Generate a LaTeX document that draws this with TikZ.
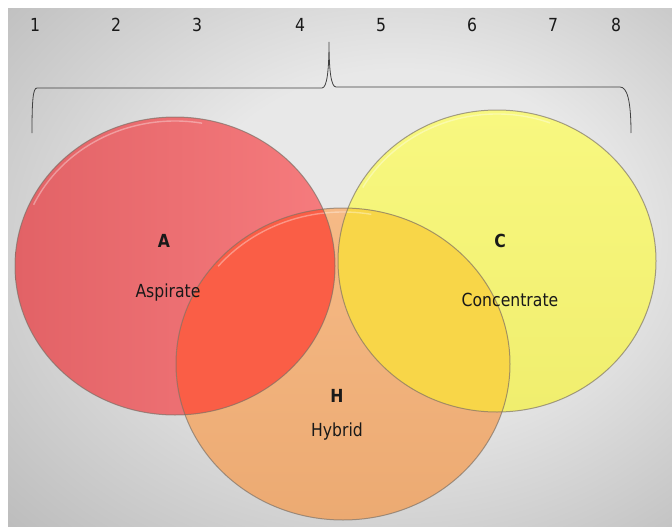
\documentclass[tikz,border=0pt]{standalone}
\usepackage{fontspec}
\setmainfont[FakeStretch=0.87]{DejaVu Sans}
\usetikzlibrary{calc}

\definecolor{bgmid}{RGB}{232,232,232}
\definecolor{bgedge}{RGB}{128,128,128}
\definecolor{aspleft}{RGB}{226,98,102}
\definecolor{aspright}{RGB}{246,124,126}
\definecolor{hybtop}{RGB}{246,186,134}
\definecolor{hybbot}{RGB}{236,170,114}
\definecolor{contop}{RGB}{248,248,128}
\definecolor{conbot}{RGB}{240,238,110}
\definecolor{asphyb}{RGB}{250,94,70}
\definecolor{conhyb}{RGB}{248,214,72}
\definecolor{rimgray}{RGB}{120,110,100}

\pgfdeclareradialshading{backdrop}{\pgfpoint{6bp}{4bp}}{color(0bp)=(bgmid); color(16bp)=(bgmid); color(70bp)=(bgedge)}

\newcommand{\circA}{(175,266) ellipse [x radius=160, y radius=149]}
\newcommand{\circC}{(497,261) ellipse [x radius=159, y radius=151]}
\newcommand{\circH}{(343,364) ellipse [x radius=167, y radius=156]}

\begin{document}
\begin{tikzpicture}[x=1pt,y=-1pt,
    txt/.style={inner sep=0pt,anchor=base,text=black!90,font=\fontsize{18}{20}\selectfont},
    hd/.style={txt,font=\bfseries\fontsize{18}{20}\selectfont},
    rim/.style={draw=rimgray,draw opacity=0.65,line width=1pt},
    gloss/.style={white,opacity=0.35,line width=1.4pt}]
  \useasboundingbox[fill=white] (0,0) rectangle (672,527);
  \shade[shading=backdrop] (8,9) rectangle (672,527); % backdrop

  % column numbers
  \node[txt] (n1) at (35,32) {1};
  \node[txt] (n2) at (116,32) {2};
  \node[txt] (n3) at (197,32) {3};
  \node[txt] (n4) at (300,32) {4};
  \node[txt] (n5) at (381,32) {5};
  \node[txt] (n6) at (472,32) {6};
  \node[txt] (n7) at (553,32) {7};
  \node[txt] (n8) at (616,32) {8};

  % brace
  \draw[black!75,line width=0.8pt] (32,133) .. controls (32,100) and (33,88) .. (37,88) -- (322,88)
     .. controls (327,88) and (329,70) .. (329,42) .. controls (329,70) and (331,87) .. (336,87)
     -- (620,87) .. controls (627,87) and (631,100) .. (631,133);

  % circles
  \shade[left color=aspleft,right color=aspright] \circA; % aspirate
  \shade[top color=contop,bottom color=conbot] \circC; % concentrate
  \shade[top color=hybtop,bottom color=hybbot] \circH; % hybrid
  \begin{scope}
    \clip \circH;
    \fill[asphyb] \circA;
    \fill[conhyb] \circC;
  \end{scope}
  \draw[gloss] (175,266) ++(-155:156 and 145) arc[start angle=-155,end angle=-80,x radius=156,y radius=145];
  \draw[gloss] (497,261) ++(-150:155 and 147) arc[start angle=-150,end angle=-70,x radius=155,y radius=147];
  \draw[gloss] (343,364) ++(-140:163 and 152) arc[start angle=-140,end angle=-80,x radius=163,y radius=152];
  \draw[rim] \circA;
  \draw[rim] \circC;
  \draw[rim] \circH;

  % labels
  \node[hd] (keyA) at (164,247) {A};
  \node[txt] (asp) at (168,297) {Aspirate};
  \node[hd] (keyC) at (500,247) {C};
  \node[txt] (con) at (510,306) {Concentrate};
  \node[hd] (keyH) at (337,402) {H};
  \node[txt] (hyb) at (337,436) {Hybrid};
\end{tikzpicture}
\end{document}
